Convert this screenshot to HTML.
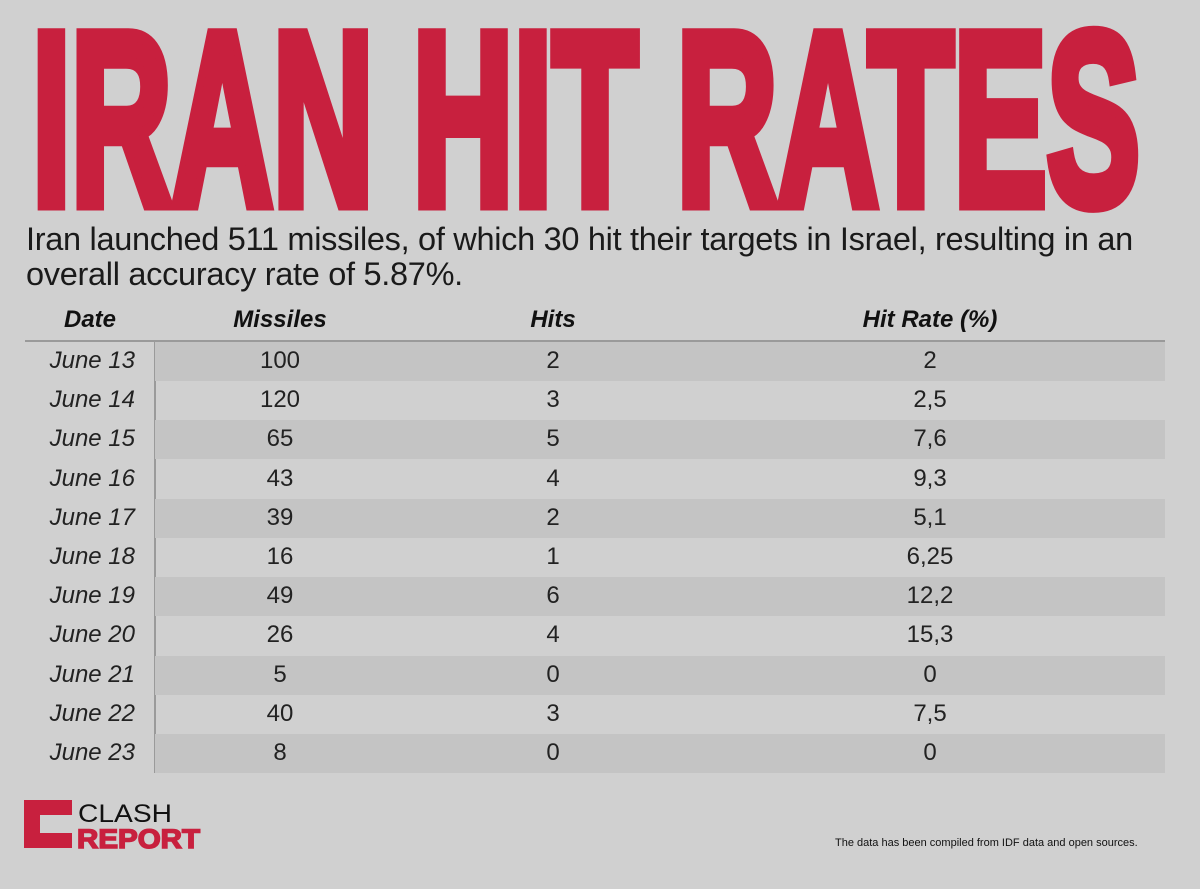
<!DOCTYPE html>
<html><head><style>
body{margin:0;width:1200px;height:889px;background:#d0d0d0;font-family:"Liberation Sans",sans-serif;overflow:hidden;position:relative}
.sub{position:absolute;left:26px;top:222px;font-size:32.5px;line-height:35px;color:#1a1a1a;letter-spacing:-0.3px}
.stripe{position:absolute;left:155px;width:1010px;height:39px;background:#c4c4c4}
.c{position:absolute;width:200px;text-align:center;font-size:24px;color:#222}
.d{position:absolute;left:0;width:135px;text-align:right;font-size:24px;font-style:italic;color:#222}
.h{position:absolute;width:200px;text-align:center;font-size:24px;font-weight:bold;font-style:italic;color:#111;top:306px}
</style></head><body>
<svg width="1200" height="230" style="position:absolute;left:0;top:0">
<text x="32" y="204" font-family="Liberation Sans" font-weight="bold" font-size="246" fill="#c8203e" stroke="#c8203e" stroke-width="13" stroke-linejoin="miter" textLength="1108" lengthAdjust="spacingAndGlyphs">IRAN HIT RATES</text>
</svg>
<div class="sub">Iran launched 511 missiles, of which 30 hit their targets in Israel, resulting in an<br>overall accuracy rate of 5.87%.</div>
<div class="h" style="left:-10px">Date</div>
<div class="h" style="left:180px">Missiles</div>
<div class="h" style="left:453px">Hits</div>
<div class="h" style="left:830px">Hit Rate (%)</div>
<div style="position:absolute;left:25px;top:340px;width:1140px;height:2px;background:#9a9a9a"></div>
<div style="position:absolute;left:154px;top:341px;width:2px;height:432px;background:#9a9a9a"></div>
<div id="rows"></div>
<script>
var d=[["June 13",100,2,"2"],["June 14",120,3,"2,5"],["June 15",65,5,"7,6"],["June 16",43,4,"9,3"],["June 17",39,2,"5,1"],["June 18",16,1,"6,25"],["June 19",49,6,"12,2"],["June 20",26,4,"15,3"],["June 21",5,0,"0"],["June 22",40,3,"7,5"],["June 23",8,0,"0"]];
var h="";
d.forEach(function(r,i){var y=342+i*39.2;
if(i%2==0)h+='<div class="stripe" style="top:'+y+'px"></div>';
var ty=y+5;
h+='<div class="d" style="top:'+ty+'px">'+r[0]+'</div>';
h+='<div class="c" style="left:180px;top:'+ty+'px">'+r[1]+'</div>';
h+='<div class="c" style="left:453px;top:'+ty+'px">'+r[2]+'</div>';
h+='<div class="c" style="left:830px;top:'+ty+'px">'+r[3]+'</div>';});
document.getElementById("rows").innerHTML=h;
</script>
<svg width="200" height="60" style="position:absolute;left:20px;top:795px">
<path d="M4 5 H52 V20 H20 V38 H52 V53 H4 Z" fill="#c8203e"/>
<text x="58" y="27" font-family="Liberation Sans" font-size="25" fill="#111" textLength="94" lengthAdjust="spacingAndGlyphs">CLASH</text>
<text x="57" y="53" font-family="Liberation Sans" font-weight="bold" font-size="27" fill="#c8203e" stroke="#c8203e" stroke-width="1.5" textLength="123" lengthAdjust="spacingAndGlyphs">REPORT</text>
</svg>
<div style="position:absolute;left:835px;top:837px;font-size:11px;color:#111">The data has been compiled from IDF data and open sources.</div>
</body></html>
